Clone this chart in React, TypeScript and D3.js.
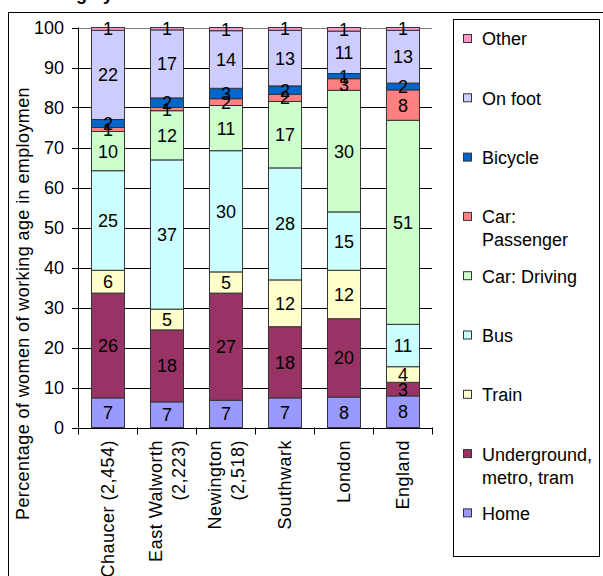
import React from "react";
import * as d3 from "d3";

const categories = [
  ["Chaucer (2,454)"],
  ["East Walworth", "(2,223)"],
  ["Newington", "(2,518)"],
  ["Southwark"],
  ["London"],
  ["England"],
];
const categoryKeys = ["Chaucer", "East Walworth", "Newington", "Southwark", "London", "England"];

// stacked bottom -> top
const seriesNames = ["Home", "Underground, metro, tram", "Train", "Bus", "Car: Driving", "Car: Passenger", "Bicycle", "On foot", "Other"];
const seriesColors = ["#9999FF", "#993366", "#FFFFCC", "#CCFFFF", "#CCFFCC", "#FF8080", "#0066CC", "#CCCCFF", "#FF99CC"];

const home = [7.4, 6.4, 6.8, 7.4, 7.6, 7.9];
const underground = [26.2, 18.0, 26.8, 17.8, 19.6, 3.4];
const train = [5.7, 5.2, 5.3, 11.7, 12.1, 3.9];
const bus = [24.9, 37.3, 30.3, 28.0, 14.6, 10.6];
const carDriving = [9.8, 12.3, 11.3, 16.6, 30.4, 51.0];
const carPassenger = [1.0, 0.8, 1.7, 1.8, 2.9, 7.6];
const bicycle = [2.0, 2.4, 2.6, 2.1, 1.3, 1.7];
const onFoot = [22.3, 17.0, 14.4, 13.9, 10.6, 13.2];
const other = [0.7, 0.6, 0.8, 0.7, 0.9, 0.7];

const labelHome = [7, 7, 7, 7, 8, 8];
const labelUnderground = [26, 18, 27, 18, 20, 3];
const labelTrain = [6, 5, 5, 12, 12, 4];
const labelBus = [25, 37, 30, 28, 15, 11];
const labelCarDriving = [10, 12, 11, 17, 30, 51];
const labelCarPassenger = [1, 1, 2, 2, 3, 8];
const labelBicycle = [2, 2, 3, 2, 1, 2];
const labelOnFoot = [22, 17, 14, 13, 11, 13];
const labelOther = [1, 1, 1, 1, 1, 1];

const yTicks = [0, 10, 20, 30, 40, 50, 60, 70, 80, 90, 100];

// legend order top -> bottom
const legendItems = [
  { name: ["Other"], idx: 8 },
  { name: ["On foot"], idx: 7 },
  { name: ["Bicycle"], idx: 6 },
  { name: ["Car:", "Passenger"], idx: 5 },
  { name: ["Car: Driving"], idx: 4 },
  { name: ["Bus"], idx: 3 },
  { name: ["Train"], idx: 2 },
  { name: ["Underground,", "metro, tram"], idx: 1 },
  { name: ["Home"], idx: 0 },
];

const FONT = "'Liberation Sans', Arial, sans-serif";

export default function App() {
  const values = [home, underground, train, bus, carDriving, carPassenger, bicycle, onFoot, other];
  const labels = [labelHome, labelUnderground, labelTrain, labelBus, labelCarDriving, labelCarPassenger, labelBicycle, labelOnFoot, labelOther];

  const rows = categoryKeys.map((k, i) => {
    const r: any = { key: k };
    seriesNames.forEach((s, j) => (r[s] = values[j][i]));
    return r;
  });
  const stacked = d3.stack().keys(seriesNames)(rows);

  const x = d3.scaleBand().domain(categoryKeys).range([78, 432]).paddingInner(0.44).paddingOuter(0.22);
  const y = d3.scaleLinear().domain([0, 100]).range([427.5, 27.5]);

  const step = x.step();

  return (
    <svg width={603} height={576} style={{ position: "absolute", left: 0, top: 0, background: "#fff" }} fontFamily={FONT}>
      <defs>
        <clipPath id="ytclip">
          <rect x={0} y={88} width={60} height={480} />
        </clipPath>
      </defs>
      <rect x={0} y={0} width={603} height={576} fill="#fff" />
      <text x={3} y={0} fontSize={18} fontWeight="bold" fill="#000">Travelling by mode</text>
      <rect x={8.5} y={12.5} width={700} height={700} fill="none" stroke="#000" strokeWidth={1} />

      {/* gridlines */}
      {yTicks.map((t) => (
        <line key={"g" + t} x1={78} x2={432} y1={Math.round(y(t)) + 0.5} y2={Math.round(y(t)) + 0.5}
          stroke={t === 100 ? "#808080" : "#000"} strokeWidth={1} />
      ))}

      {/* bars */}
      {stacked.map((layer, j) => (
        <g key={"s" + j}>
          {layer.map((d, i) => {
            const x0 = x(categoryKeys[i])!;
            const yTop = y(d[1]);
            const yBot = y(d[0]);
            return (
              <rect key={i} x={x0 + 0.5} y={yTop} width={x.bandwidth()} height={yBot - yTop}
                fill={seriesColors[j]} stroke="#333" strokeWidth={1} />
            );
          })}
        </g>
      ))}

      {/* labels */}
      {stacked.map((layer, j) => (
        <g key={"l" + j}>
          {layer.map((d, i) => {
            const cx = x(categoryKeys[i])! + x.bandwidth() / 2 + 0.5;
            const cy = (y(d[0]) + y(d[1])) / 2;
            return (
              <text key={i} x={cx} y={cy} dy="0.36em" textAnchor="middle" fontSize={18} fill="#000">
                {labels[j][i]}
              </text>
            );
          })}
        </g>
      ))}

      {/* y axis */}
      <line x1={78.5} x2={78.5} y1={y(100)} y2={y(0)} stroke="#000" />
      {yTicks.map((t) => (
        <g key={"yt" + t}>
          <line x1={72} x2={78} y1={Math.round(y(t)) + 0.5} y2={Math.round(y(t)) + 0.5} stroke="#000" />
          <text x={64} y={y(t)} dy="0.36em" textAnchor="end" fontSize={18} fill="#000">{t}</text>
        </g>
      ))}
      <g clipPath="url(#ytclip)">
        <text transform="translate(29,520) rotate(-90)" x={0} y={0} fontSize={18} letterSpacing={0.4} fill="#000">
          Percentage of women of working age in employment
        </text>
      </g>

      {/* x axis */}
      <line x1={78} x2={432} y1={Math.round(y(0)) + 0.5} y2={Math.round(y(0)) + 0.5} stroke="#000" />
      {d3.range(categoryKeys.length + 1).map((i) => {
        const xx = Math.round(78 + i * step) + 0.5;
        return <line key={"xt" + i} x1={xx} x2={xx} y1={y(0)} y2={y(0) + 7} stroke="#000" />;
      })}
      {categories.map((lines, i) => {
        const cx = x(categoryKeys[i])! + x.bandwidth() / 2 + 0.5;
        const n = lines.length;
        return lines.map((ln, k) => {
          const off = (k - (n - 1) / 2) * 23;
          return (
            <text key={"c" + i + k} transform={`translate(${cx + off},440) rotate(-90)`} dy="0.36em"
              textAnchor="end" fontSize={18} letterSpacing={0.5} fill="#000">
              {ln}
            </text>
          );
        });
      })}

      {/* legend */}
      <rect x={453.5} y={19.5} width={146} height={537} fill="#fff" stroke="#000" />
      {legendItems.map((it, k) => {
        const cy = 39 + k * 59.3;
        return (
          <g key={"lg" + k}>
            <rect x={463.5} y={cy - 4.5} width={8} height={8} fill={seriesColors[it.idx]} stroke="#333" />
            {it.name.map((ln, m) => (
              <text key={m} x={482} y={cy + m * 23} dy="0.36em" fontSize={18} fill="#000">{ln}</text>
            ))}
          </g>
        );
      })}
    </svg>
  );
}
